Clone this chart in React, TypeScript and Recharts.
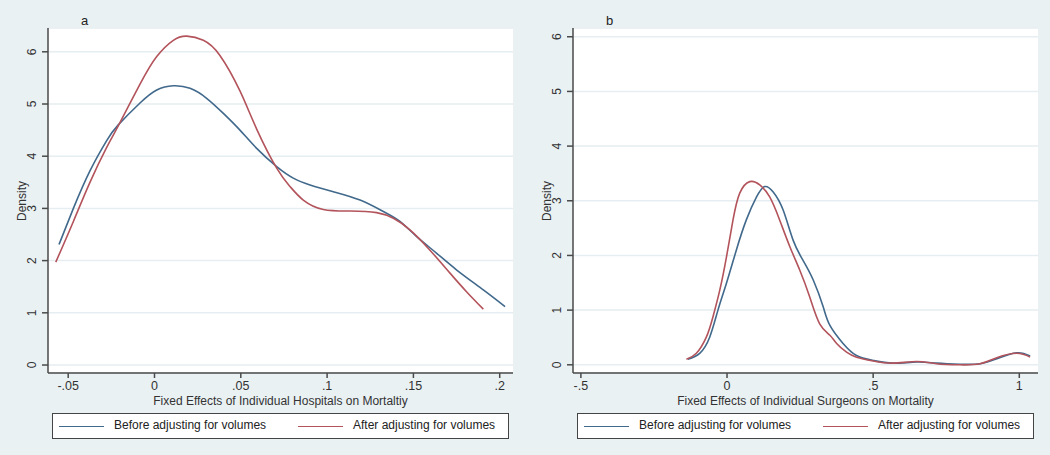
import React from 'react'
import { LineChart, Line, XAxis, YAxis, CartesianGrid } from 'recharts'

// Panel a: hospitals (kernel density)
const HOSP_BEFORE_X = [-0.0553, -0.047, -0.0374, -0.0277, -0.021, -0.0084, 0.0013, 0.0109, 0.0206, 0.0302, 0.0399, 0.0495, 0.0592, 0.0708, 0.0804, 0.0901, 0.1036, 0.1191, 0.1326, 0.1422, 0.1519, 0.1635, 0.1751, 0.1905, 0.2031]
const HOSP_BEFORE_Y = [2.31, 3.0, 3.72, 4.3, 4.6, 5.02, 5.27, 5.35, 5.3, 5.11, 4.82, 4.5, 4.15, 3.8, 3.58, 3.45, 3.32, 3.16, 2.94, 2.75, 2.46, 2.14, 1.82, 1.44, 1.12]
const HOSP_AFTER_X = [-0.0572, -0.047, -0.0374, -0.0277, -0.021, -0.0084, 0.0013, 0.0109, 0.0187, 0.0283, 0.0379, 0.0495, 0.0592, 0.0708, 0.0785, 0.0862, 0.0978, 0.1133, 0.1287, 0.1384, 0.148, 0.1596, 0.1712, 0.1809, 0.1905]
const HOSP_AFTER_Y = [1.97, 2.75, 3.5, 4.17, 4.58, 5.38, 5.91, 6.22, 6.3, 6.22, 5.93, 5.25, 4.52, 3.77, 3.42, 3.16, 2.98, 2.95, 2.92, 2.81, 2.59, 2.2, 1.76, 1.4, 1.07]

// Panel b: surgeons
const SURG_BEFORE_X = [-0.134, -0.0935, -0.059, -0.031, -0.002, 0.032, 0.066, 0.101, 0.129, 0.158, 0.192, 0.226, 0.26, 0.295, 0.329, 0.352, 0.397, 0.443, 0.5, 0.568, 0.649, 0.717, 0.797, 0.866, 0.923, 0.991, 1.037]
const SURG_BEFORE_Y = [0.1, 0.21, 0.51, 1.0, 1.49, 2.1, 2.65, 3.07, 3.26, 3.16, 2.83, 2.28, 1.91, 1.55, 1.06, 0.72, 0.39, 0.17, 0.08, 0.03, 0.05, 0.03, 0.01, 0.02, 0.11, 0.22, 0.16]
const SURG_AFTER_X = [-0.139, -0.105, -0.0705, -0.048, -0.025, -0.002, 0.0205, 0.0435, 0.0777, 0.112, 0.146, 0.18, 0.215, 0.249, 0.283, 0.317, 0.352, 0.375, 0.409, 0.443, 0.5, 0.568, 0.649, 0.717, 0.797, 0.866, 0.923, 0.991, 1.037]
const SURG_AFTER_Y = [0.1, 0.21, 0.51, 0.88, 1.36, 1.97, 2.65, 3.14, 3.35, 3.29, 3.07, 2.65, 2.16, 1.73, 1.24, 0.75, 0.54, 0.39, 0.23, 0.14, 0.07, 0.03, 0.06, 0.02, 0.0, 0.02, 0.13, 0.21, 0.14]

const Y_TICKS = [0, 1, 2, 3, 4, 5, 6]
const HOSP_X_TICKS = [-0.05, 0, 0.05, 0.1, 0.15, 0.2]
const HOSP_X_LABELS = ['-.05', '0', '.05', '.1', '.15', '.2']
const SURG_X_TICKS = [-0.5, 0, 0.5, 1]
const SURG_X_LABELS = ['-.5', '0', '.5', '1']

const LEGEND_LABELS = ['Before adjusting for volumes', 'After adjusting for volumes']

const BLUE = '#41698c'
const RED = '#b3535b'
const BG = '#eaf1f3'
const AXIS = '#4a4a4a'
const FONT = '"Liberation Sans", Arial, Helvetica, sans-serif'

const zip = (xs: number[], ys: number[]) => xs.map((x, i) => ({ x, y: ys[i] }))

function YTick({ x, y, payload }: any) {
  return (
    <text x={x - 4} y={y} transform={`rotate(-90 ${x - 4} ${y})`} textAnchor="middle" fontSize={12} fill="#333" fontFamily={FONT}>
      {payload.value}
    </text>
  )
}

interface PanelProps {
  tag: string
  before: { x: number; y: number }[]
  after: { x: number; y: number }[]
  xDomain: [number, number]
  yDomain: [number, number]
  xTicks: number[]
  xLabels: string[]
  xTitle: string
  left: number
}

function Panel({ tag, before, after, xDomain, yDomain, xTicks, xLabels, xTitle, left }: PanelProps) {
  const fmt = (v: number) => {
    const i = xTicks.findIndex(t => Math.abs(t - v) < 1e-9)
    return i >= 0 ? xLabels[i] : String(v)
  }
  return (
    <div style={{ position: 'absolute', left, top: 0, width: 525, height: 455 }}>
      {/* white plot region */}
      <div style={{ position: 'absolute', left: 48, top: 28, width: 465, height: 345, background: '#fff' }} />
      <div style={{ position: 'absolute', left: 81, top: 13, fontSize: 13, fontFamily: FONT, color: '#222', lineHeight: '16px' }}>{tag}</div>
      <div style={{ position: 'absolute', left: 0, top: 0 }}>
        <LineChart width={525} height={455} margin={{ top: 28, right: 12, bottom: 60, left: 8 }}>
          <CartesianGrid horizontal vertical={false} stroke="#e6eef1" strokeWidth={1.5} />
          <XAxis
            type="number"
            dataKey="x"
            domain={xDomain}
            ticks={xTicks}
            allowDataOverflow
            height={22}
            tickSize={5}
            tickMargin={3}
            tickFormatter={fmt}
            stroke={AXIS}
            strokeWidth={1.5}
            tick={{ fill: '#333', fontSize: 12.5, fontFamily: FONT }}
            label={{ value: xTitle, position: 'bottom', offset: 1, fill: '#333', fontSize: 12, fontFamily: FONT }}
          />
          <YAxis
            type="number"
            dataKey="y"
            domain={yDomain}
            ticks={Y_TICKS}
            allowDataOverflow
            width={40}
            tickSize={6}
            tickMargin={2}
            stroke={AXIS}
            strokeWidth={1.5}
            tick={<YTick />}
            label={{
              content: () => (
                <text x={22} y={201} transform="rotate(-90 22 201)" textAnchor="middle" dominantBaseline="central" fontSize={12} fill="#333" fontFamily={FONT}>
                  Density
                </text>
              ),
            }}
          />
          <Line data={before} dataKey="y" type="natural" stroke={BLUE} strokeWidth={1.6} dot={false} isAnimationActive={false} />
          <Line data={after} dataKey="y" type="natural" stroke={RED} strokeWidth={1.6} dot={false} isAnimationActive={false} />
        </LineChart>
      </div>
      {/* legend */}
      <div style={{ position: 'absolute', left: 52, top: 413, width: 455, height: 24, background: '#fff', border: '1px solid #444', fontFamily: FONT, fontSize: 12, color: '#222' }}>
        <div style={{ position: 'absolute', left: 6, top: 12, width: 45, height: 0, borderTop: `1.6px solid ${BLUE}` }} />
        <div style={{ position: 'absolute', left: 61, top: 4, whiteSpace: 'nowrap' }}>{LEGEND_LABELS[0]}</div>
        <div style={{ position: 'absolute', left: 245, top: 12, width: 45, height: 0, borderTop: `1.6px solid ${RED}` }} />
        <div style={{ position: 'absolute', left: 300, top: 4, whiteSpace: 'nowrap' }}>{LEGEND_LABELS[1]}</div>
      </div>
    </div>
  )
}

export default function App() {
  return (
    <div style={{ position: 'absolute', left: 0, top: 0, width: 1050, height: 455, background: BG, overflow: 'hidden' }}>
      <Panel
        tag="a"
        before={zip(HOSP_BEFORE_X, HOSP_BEFORE_Y)}
        after={zip(HOSP_AFTER_X, HOSP_AFTER_Y)}
        xDomain={[-0.0617, 0.2077]}
        yDomain={[-0.153, 6.456]}
        xTicks={HOSP_X_TICKS}
        xLabels={HOSP_X_LABELS}
        xTitle="Fixed Effects of Individual Hospitals on Mortaltiy"
        left={0}
      />
      <Panel
        tag="b"
        before={zip(SURG_BEFORE_X, SURG_BEFORE_Y)}
        after={zip(SURG_AFTER_X, SURG_AFTER_Y)}
        xDomain={[-0.527, 1.064]}
        yDomain={[-0.15, 6.16]}
        xTicks={SURG_X_TICKS}
        xLabels={SURG_X_LABELS}
        xTitle="Fixed Effects of Individual Surgeons on Mortality"
        left={525}
      />
    </div>
  )
}
